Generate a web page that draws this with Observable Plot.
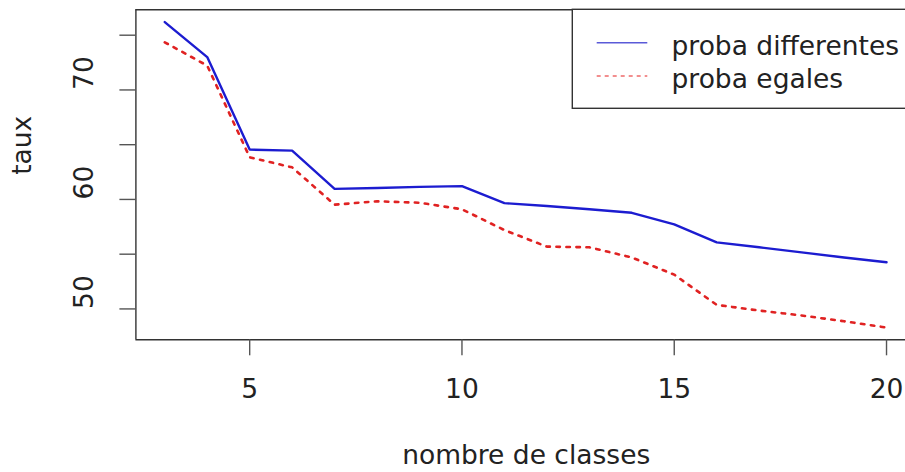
<!DOCTYPE html>
<html>
<head>
<meta charset="utf-8">
<script src="https://cdn.jsdelivr.net/npm/d3@7"></script>
<script src="https://cdn.jsdelivr.net/npm/@observablehq/plot@0.6"></script>
<style>
  html, body { margin: 0; padding: 0; background: #fff; }
</style>
</head>
<body>
<div id="chart"></div>
<script>
const classes = [3, 4, 5, 6, 7, 8, 9, 10, 11, 12, 13, 14, 15, 16, 17, 18, 19, 20];
const probaDifferentes = [76.2, 73.0, 64.55, 64.46, 60.96, 61.05, 61.15, 61.22, 59.66, 59.4, 59.1, 58.78, 57.72, 56.08, 55.63, 55.17, 54.7, 54.26];
const probaEgales = [74.35, 72.22, 63.85, 62.93, 59.52, 59.83, 59.7, 59.1, 57.2, 55.69, 55.63, 54.7, 53.13, 50.37, 49.85, 49.4, 48.87, 48.3];
const xTicks = [5, 10, 15, 20];
const yTicks = [50, 55, 60, 65, 70, 75];
const yLabels = [50, 60, 70];
const seriesNames = ["proba differentes", "proba egales"];

const dataDiff = classes.map((c, i) => ({x: c, y: probaDifferentes[i]}));
const dataEg = classes.map((c, i) => ({x: c, y: probaEgales[i]}));

const FONT = "DejaVu Sans, sans-serif";
const FS = 26.5;
const xMin = 2.32, yMin = 47.18, yMax = 77.32;

const chart = Plot.plot({
  width: 905,
  height: 472,
  marginLeft: 135.4,
  marginRight: 0,
  marginTop: 9.3,
  marginBottom: 132.7,
  x: {domain: [xMin, 20.447]},
  y: {domain: [yMin, yMax]},
  style: {fontFamily: FONT, background: "#fff", color: "#222"},
  marks: [
    Plot.ruleY([yMin, yMax], {stroke: "#333", strokeWidth: 1.4}),
    Plot.ruleX([xMin], {stroke: "#333", strokeWidth: 1.4}),
    Plot.axisX({ticks: xTicks, tickSize: 16, tickFormat: () => "", label: null, stroke: "#555", strokeWidth: 1.4}),
    Plot.axisY({ticks: yTicks, tickSize: 16, tickFormat: () => "", label: null, stroke: "#555", strokeWidth: 1.4}),
    Plot.text(xTicks, {x: d => d, frameAnchor: "bottom", dy: 58, text: d => String(d), fontSize: FS, fill: "#222"}),
    Plot.text(yLabels, {y: d => d, frameAnchor: "left", dx: -51, rotate: -90, text: d => String(d), fontSize: FS, fill: "#222"}),
    Plot.text(["taux"], {frameAnchor: "left", dx: -113, rotate: -90, text: d => d, fontSize: FS, fill: "#222"}),
    Plot.text(["nombre de classes"], {frameAnchor: "bottom", dx: 5.5, dy: 124, text: d => d, fontSize: FS, fill: "#222"}),
    Plot.line(dataEg, {x: "x", y: "y", stroke: "#e02222", strokeWidth: 2.6, strokeDasharray: "3.5,6.5"}),
    Plot.line(dataDiff, {x: "x", y: "y", stroke: "#1c1cd0", strokeWidth: 2.4})
  ]
});

// legend (top-right, box extends past the right edge like the original)
const svg = d3.select(chart);
const lg = svg.append("g").attr("text-anchor", "start");
lg.append("rect").attr("x", 572.3).attr("y", 9.3).attr("width", 360).attr("height", 99)
  .attr("fill", "#fff").attr("stroke", "#333").attr("stroke-width", 1.4);
const legendStyles = [
  {stroke: "#5a5ad8", dash: null, y: 42.7},
  {stroke: "#ee6a6a", dash: "4,4", y: 76}
];
legendStyles.forEach((s, i) => {
  const l = lg.append("line").attr("x1", 596.7).attr("x2", 647.3).attr("y1", s.y).attr("y2", s.y)
    .attr("stroke", s.stroke).attr("stroke-width", 1.4);
  if (s.dash) l.attr("stroke-dasharray", s.dash);
  lg.append("text").attr("x", 671.5).attr("y", s.y + 12.3).attr("font-family", FONT)
    .attr("text-anchor", "start")
    .attr("font-size", FS).attr("fill", "#222").text(seriesNames[i]);
});

document.getElementById("chart").appendChild(chart);
</script>
</body>
</html>
